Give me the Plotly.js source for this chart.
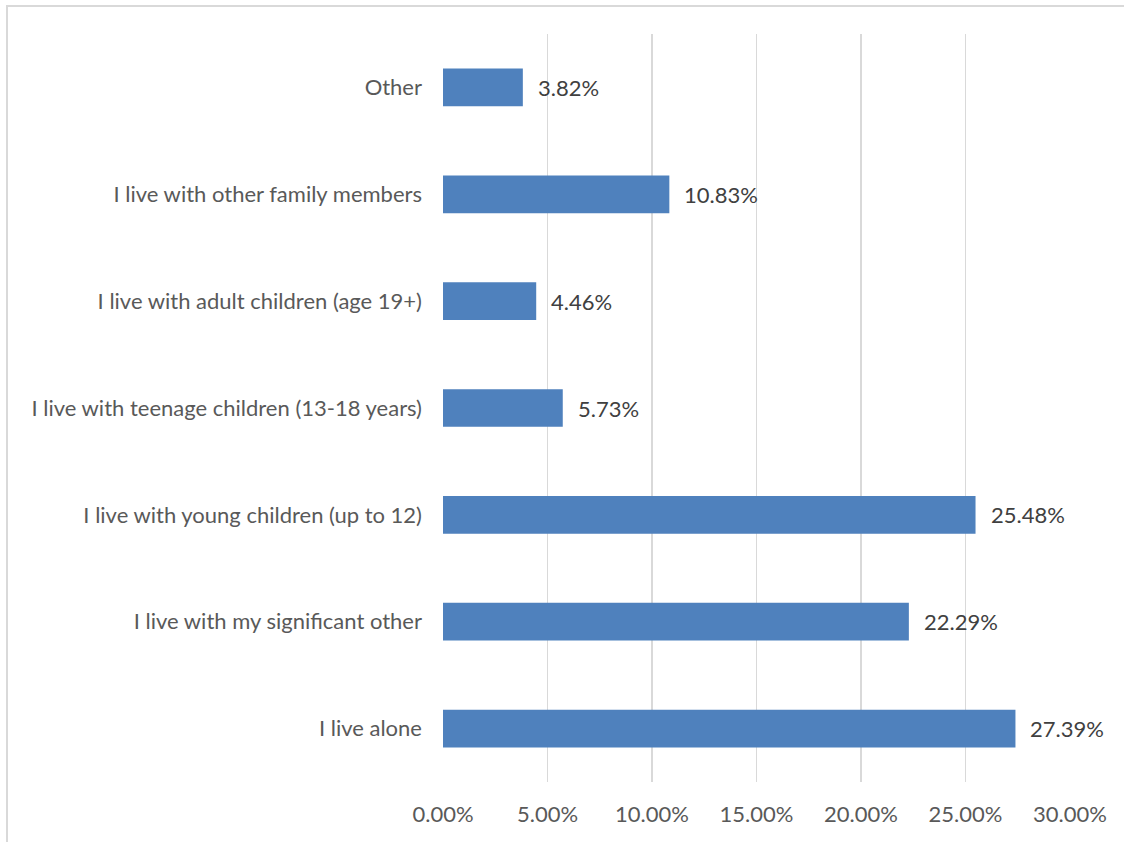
<!DOCTYPE html>
<html>
<head>
<meta charset="utf-8">
<script src="https://cdn.plot.ly/plotly-3.0.1.min.js"></script>
<style>
html,body{margin:0;padding:0;background:#fff;}
#wrap{position:relative;width:1124px;height:842px;overflow:hidden;}
#chart{position:absolute;left:0;top:0;width:1124px;height:842px;}
#frame{position:absolute;left:6px;top:5px;width:1200px;height:900px;border-top:2px solid #d9d9d9;border-left:2px solid #d9d9d9;pointer-events:none;}
</style>
</head>
<body>
<div id="wrap"><div id="chart"></div><div id="frame"></div></div>
<script>
const categories = [
  "I live alone",
  "I live with my significant other",
  "I live with young children (up to 12)",
  "I live with teenage children (13-18 years)",
  "I live with adult children (age 19+)",
  "I live with other family members",
  "Other"
];
const values = [27.39, 22.29, 25.48, 5.73, 4.46, 10.83, 3.82];
const tickValues = [0, 5, 10, 15, 20, 25, 30];
const tickLabels = tickValues.map(v => v.toFixed(2) + "%");

const FONT = "Lato, 'Open Sans', sans-serif";
const FS = 22;

const trace = {
  type: "bar",
  orientation: "h",
  y: categories,
  x: values,
  marker: {color: "#4f81bd"},
  width: 0.353,
  hoverinfo: "none"
};

const annotations = values.map((v, i) => ({
  x: v, y: categories[i], xref: "x", yref: "y",
  text: v.toFixed(2) + "%",
  showarrow: false, xanchor: "left", xshift: 13,
  font: {family: FONT, size: FS, color: "#404040"}
}));

const layout = {
  width: 1124, height: 842,
  margin: {l: 443, r: 54, t: 34, b: 60},
  paper_bgcolor: "rgba(0,0,0,0)",
  plot_bgcolor: "#fff",
  showlegend: false,
  font: {family: FONT, size: FS, color: "#595959"},
  xaxis: {
    range: [0, 30],
    tickvals: tickValues,
    ticktext: tickLabels,
    showgrid: true, gridcolor: "#d9d9d9", gridwidth: 1.5,
    zeroline: false, showline: false,
    ticks: "", ticklabelstandoff: 17,
    tickfont: {family: FONT, size: FS, color: "#595959"},
    fixedrange: true
  },
  yaxis: {
    categoryorder: "array", categoryarray: categories,
    showgrid: false, zeroline: false, showline: false,
    ticks: "", ticklabelstandoff: 20,
    tickfont: {family: FONT, size: FS, color: "#595959"},
    fixedrange: true
  },
  annotations: annotations
};

Plotly.newPlot("chart", [trace], layout, {displayModeBar: false, staticPlot: true});
</script>
</body>
</html>
